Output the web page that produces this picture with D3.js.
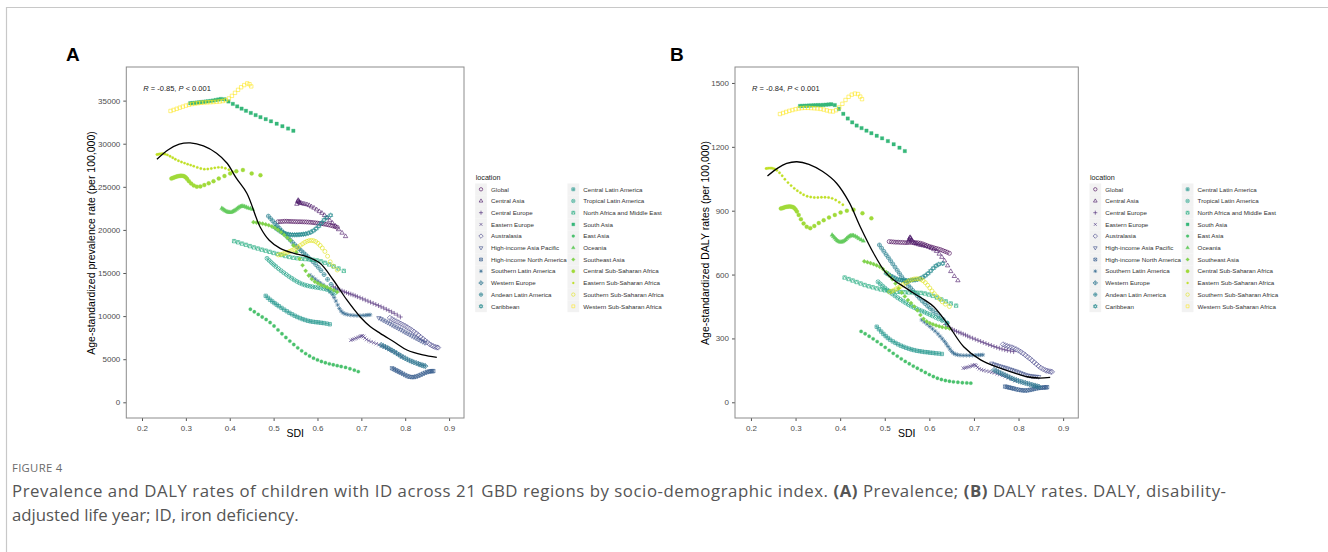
<!DOCTYPE html>
<html>
<head>
<meta charset="utf-8">
<script src="https://cdn.jsdelivr.net/npm/d3@7"></script>
<style>
  body { margin: 0; background: #fff; }
  svg text { font-family: "Liberation Sans", Arial, sans-serif; }
  .caption { font-family: "Open Sans", "Noto Sans", sans-serif; }
</style>
</head>
<body>
<svg id="fig" width="1328" height="552"></svg>
<script>
// ---- data ----
var locations = ["Global", "Central Asia", "Central Europe", "Eastern Europe", "Australasia",
  "High-income Asia Pacific", "High-income North America", "Southern Latin America", "Western Europe",
  "Andean Latin America", "Caribbean", "Central Latin America", "Tropical Latin America",
  "North Africa and Middle East", "South Asia", "East Asia", "Oceania", "Southeast Asia",
  "Central Sub-Saharan Africa", "Eastern Sub-Saharan Africa", "Southern Sub-Saharan Africa",
  "Western Sub-Saharan Africa"];

// ggplot shape codes, one per location
var shapeCodes = [1, 2, 3, 4, 5, 6, 7, 8, 9, 10, 11, 12, 13, 14, 15, 16, 17, 18, 19, 20, 21, 22];

var sdiValues = [
  [0.510,0.515,0.520,0.525,0.530,0.535,0.540,0.545,0.550,0.555,0.560,0.565,0.570,0.575,0.580,0.585,0.590,0.595,0.600,0.605,0.610,0.615,0.620,0.625,0.630,0.635,0.640,0.645],
  [0.553,0.555,0.556,0.557,0.558,0.560,0.563,0.567,0.571,0.576,0.581,0.586,0.592,0.598,0.604,0.610,0.616,0.622,0.628,0.634,0.641,0.648,0.656,0.664],
  [0.636,0.641,0.646,0.651,0.656,0.661,0.666,0.671,0.676,0.681,0.686,0.691,0.697,0.703,0.709,0.715,0.721,0.727,0.733,0.739,0.745,0.751,0.757,0.763,0.769,0.775,0.782,0.789],
  [0.676,0.680,0.684,0.688,0.692,0.696,0.699,0.702,0.705,0.708,0.712,0.717,0.722,0.728,0.734,0.740,0.746,0.752,0.758,0.764,0.770,0.777,0.784,0.792],
  [0.765,0.770,0.775,0.780,0.785,0.790,0.795,0.800,0.805,0.810,0.815,0.820,0.825,0.830,0.835,0.840,0.845,0.850,0.855,0.860,0.864,0.868,0.872,0.875],
  [0.740,0.745,0.750,0.755,0.760,0.765,0.770,0.775,0.780,0.785,0.790,0.795,0.800,0.805,0.810,0.815,0.820,0.825,0.830,0.835,0.840,0.845],
  [0.770,0.774,0.778,0.782,0.786,0.790,0.795,0.800,0.805,0.810,0.815,0.820,0.825,0.830,0.835,0.840,0.845,0.850,0.854,0.858,0.861,0.864],
  [0.583,0.589,0.595,0.601,0.607,0.613,0.619,0.624,0.629,0.634,0.638,0.642,0.646,0.650,0.654,0.658,0.663,0.669,0.676,0.683,0.690,0.697,0.704,0.710,0.715,0.720],
  [0.745,0.750,0.755,0.760,0.765,0.770,0.775,0.780,0.785,0.790,0.795,0.800,0.805,0.810,0.815,0.820,0.825,0.830,0.834,0.838,0.842,0.846],
  [0.488,0.493,0.498,0.503,0.508,0.513,0.518,0.523,0.528,0.533,0.538,0.543,0.548,0.553,0.558,0.563,0.568,0.573,0.578,0.584,0.590,0.596,0.602,0.608,0.615,0.623,0.631,0.640],
  [0.503,0.508,0.513,0.518,0.523,0.528,0.533,0.538,0.543,0.548,0.553,0.558,0.563,0.568,0.573,0.579,0.585,0.591,0.597,0.603,0.609,0.615,0.621,0.630],
  [0.482,0.487,0.492,0.497,0.502,0.507,0.512,0.518,0.524,0.530,0.536,0.542,0.548,0.554,0.560,0.566,0.572,0.578,0.584,0.590,0.596,0.602,0.608,0.614,0.621,0.628],
  [0.485,0.490,0.495,0.500,0.505,0.511,0.517,0.523,0.529,0.535,0.541,0.547,0.553,0.559,0.565,0.571,0.577,0.583,0.589,0.595,0.601,0.607,0.614,0.621,0.629,0.639],
  [0.410,0.419,0.428,0.437,0.446,0.455,0.464,0.473,0.482,0.491,0.500,0.509,0.518,0.527,0.536,0.545,0.554,0.563,0.572,0.581,0.590,0.599,0.608,0.617,0.627,0.637,0.648,0.660],
  [0.310,0.315,0.320,0.325,0.330,0.335,0.340,0.345,0.350,0.356,0.362,0.368,0.374,0.380,0.388,0.397,0.407,0.417,0.427,0.437,0.448,0.459,0.470,0.482,0.494,0.507,0.520,0.533,0.545],
  [0.447,0.456,0.465,0.474,0.483,0.492,0.501,0.510,0.519,0.528,0.537,0.546,0.555,0.564,0.573,0.582,0.591,0.600,0.609,0.618,0.627,0.636,0.645,0.654,0.664,0.674,0.684,0.693],
  [0.382,0.385,0.388,0.391,0.394,0.397,0.400,0.403,0.406,0.409,0.412,0.415,0.418,0.421,0.424,0.427,0.430,0.434,0.438,0.442,0.447,0.452],
  [0.454,0.461,0.468,0.475,0.482,0.489,0.496,0.503,0.510,0.517,0.524,0.531,0.538,0.545,0.552,0.559,0.566,0.573,0.580,0.587,0.594,0.601,0.608,0.615,0.622,0.629,0.637,0.645],
  [0.267,0.270,0.273,0.276,0.279,0.282,0.285,0.288,0.291,0.294,0.297,0.300,0.303,0.307,0.312,0.318,0.325,0.333,0.342,0.352,0.363,0.375,0.388,0.401,0.415,0.430,0.450,0.470],
  [0.234,0.237,0.240,0.243,0.246,0.249,0.253,0.258,0.264,0.270,0.276,0.283,0.290,0.297,0.304,0.311,0.318,0.326,0.334,0.342,0.350,0.358,0.366,0.374,0.382,0.390,0.398,0.406],
  [0.511,0.516,0.521,0.526,0.531,0.536,0.541,0.546,0.551,0.556,0.561,0.566,0.571,0.576,0.581,0.586,0.591,0.596,0.601,0.606,0.611,0.617,0.623,0.629,0.636,0.645],
  [0.265,0.272,0.279,0.286,0.293,0.300,0.307,0.314,0.321,0.328,0.335,0.342,0.349,0.356,0.363,0.370,0.377,0.384,0.391,0.398,0.405,0.412,0.419,0.426,0.433,0.440,0.445,0.449]
];

var prevalenceValues = [
  [20950,20960,20980,21000,21000,20990,20980,20970,20960,20950,20950,20940,20930,20920,20900,20880,20850,20820,20790,20750,20720,20680,20640,20590,20530,20460,20380,20300],
  [23000,23300,23450,23350,23200,23150,23100,23050,23000,22950,22850,22700,22550,22350,22150,21950,21700,21400,21100,20800,20450,20050,19650,19250],
  [13400,13260,13130,13020,12920,12820,12730,12640,12550,12460,12360,12250,12130,12000,11870,11740,11610,11480,11350,11220,11080,10940,10790,10640,10480,10320,10120,9900],
  [7200,7280,7360,7440,7520,7600,7680,7720,7650,7450,7280,7150,7030,6920,6800,6680,6560,6420,6280,6130,5970,5780,5550,5280],
  [9800,9650,9500,9380,9250,9120,8980,8850,8700,8540,8370,8190,8000,7800,7590,7380,7170,6960,6770,6610,6500,6420,6370,6350],
  [9800,9680,9530,9400,9250,9120,8970,8830,8700,8550,8420,8270,8130,7990,7850,7700,7570,7430,7290,7150,7020,6900],
  [3950,3850,3740,3640,3540,3430,3300,3160,3040,2960,2920,2930,2990,3080,3190,3310,3420,3510,3570,3600,3615,3620],
  [14750,14520,14280,14040,13820,13620,13380,13120,12820,12500,12150,11750,11300,10880,10580,10380,10250,10170,10110,10080,10060,10060,10080,10100,10130,10150],
  [6650,6540,6420,6290,6150,6010,5860,5700,5540,5390,5240,5100,4970,4850,4740,4640,4550,4460,4380,4310,4250,4200],
  [21600,21320,21040,20760,20480,20200,19920,19640,19360,19090,18820,18560,18300,18050,17810,17580,17350,17120,16880,16600,16300,15980,15650,15280,14820,14260,13680,13050],
  [20300,20100,19920,19760,19640,19550,19490,19450,19430,19430,19440,19450,19470,19500,19540,19620,19740,19920,20150,20450,20800,21150,21450,21700],
  [12350,12120,11900,11700,11510,11330,11150,10950,10750,10560,10380,10210,10050,9900,9770,9650,9550,9460,9390,9340,9300,9270,9230,9190,9130,9050],
  [16700,16450,16210,15980,15760,15510,15270,15040,14820,14600,14400,14200,14020,13860,13720,13610,13530,13460,13400,13350,13300,13250,13180,13080,12900,12650],
  [18700,18560,18410,18270,18120,17970,17840,17710,17590,17460,17330,17210,17090,16970,16860,16770,16710,16660,16620,16580,16530,16460,16350,16190,15990,15760,15520,15250],
  [34700,34720,34740,34770,34800,34830,34860,34890,34920,34960,35010,35070,35130,35190,35150,34900,34620,34330,34070,33820,33570,33320,33080,32850,32600,32320,32030,31760,31500],
  [10800,10500,10200,9900,9600,9250,8850,8400,7950,7520,7100,6700,6320,5970,5650,5370,5120,4920,4740,4590,4460,4350,4250,4150,4050,3900,3730,3560],
  [22500,22400,22290,22190,22110,22060,22040,22050,22100,22180,22280,22400,22520,22630,22710,22750,22760,22720,22630,22540,22470,22400],
  [20900,20850,20790,20720,20640,20540,20400,20220,20000,19730,19420,19100,18800,18200,17400,16650,15900,15250,14700,14300,14000,13800,13620,13480,13350,13200,13020,12800],
  [25950,26020,26080,26140,26190,26230,26260,26280,26280,26260,26200,26080,25900,25650,25380,25150,25020,25050,25200,25400,25650,25950,26250,26550,26800,26950,26550,26350],
  [28750,28780,28800,28820,28840,28830,28790,28700,28550,28380,28200,28030,27880,27750,27630,27520,27400,27250,27120,27050,27060,27120,27200,27260,27250,27150,26980,26760],
  [17100,17150,17220,17300,17390,17490,17600,17720,17860,18020,18200,18380,18550,18680,18760,18780,18750,18650,18450,18200,17900,17500,16950,16300,15800,15350],
  [33800,33920,34050,34180,34300,34420,34520,34600,34660,34710,34750,34780,34800,34820,34840,34870,34900,34950,35050,35250,35550,35900,36250,36550,36800,37000,36900,36650]
];

var dalyValues = [
  [755,754,753,752,752,751,751,750,750,751,751,750,750,749,747,744,740,736,732,729,726,723,720,717,713,709,705,700],
  [755,765,772,775,770,762,755,748,744,741,738,736,733,729,724,718,710,697,682,665,642,615,592,572],
  [365,356,349,343,338,333,329,325,320,316,311,306,301,296,291,286,281,276,271,267,262,258,254,250,247,244,241,238],
  [160,162,164,166,169,172,174,176,172,164,157,153,150,147,144,141,138,134,130,126,121,115,108,101],
  [272,268,264,261,258,254,249,243,237,230,222,214,206,197,188,179,170,162,156,151,148,146,144,143],
  [183,179,176,172,169,166,163,160,156,153,149,146,142,138,134,130,127,125,123,122,121,120],
  [74,72,70,68,66,64,61,59,57,56,55,56,58,60,63,65,67,68,69,70,70,71],
  [387,377,367,356,345,334,322,310,298,286,274,262,250,239,231,226,223,221,220,220,220,221,221,222,222,223],
  [152,147,142,137,132,127,122,117,112,108,104,100,97,94,91,88,85,82,79,77,75,73],
  [739,724,709,694,680,665,650,635,620,605,590,576,562,549,537,525,513,501,489,476,464,452,441,430,418,404,389,372],
  [608,601,594,588,583,578,575,573,572,572,572,573,574,575,577,581,587,595,605,617,630,641,648,652],
  [355,343,332,321,311,302,294,286,279,272,266,261,256,252,248,245,242,240,238,236,235,233,232,230,229,227],
  [566,556,546,537,528,518,509,500,491,483,475,467,459,452,446,440,434,429,424,418,412,406,399,392,384,372],
  [586,579,572,565,558,551,545,540,535,530,526,523,521,519,518,517,516,516,515,514,511,506,500,492,483,474,464,454],
  [1392,1392,1393,1393,1394,1394,1395,1395,1396,1396,1397,1398,1399,1400,1396,1378,1355,1333,1315,1300,1288,1276,1264,1252,1240,1227,1212,1196,1180],
  [333,322,310,298,285,272,258,244,230,217,204,192,181,170,160,150,140,130,121,113,107,102,99,96,94,92,91,90],
  [786,779,772,765,759,755,753,753,755,759,764,770,776,780,783,784,783,780,775,769,763,758],
  [662,658,654,649,643,636,626,612,596,578,558,535,515,497,480,466,450,432,410,392,380,372,366,361,357,353,350,347],
  [910,912,914,916,918,919,920,920,919,917,913,906,896,880,860,840,824,818,828,842,855,868,880,891,900,905,888,864],
  [1098,1099,1100,1100,1100,1099,1096,1090,1078,1064,1048,1032,1018,1005,994,984,975,968,964,962,962,963,963,962,958,950,940,928],
  [518,522,527,533,539,546,553,560,566,572,576,579,580,580,577,571,562,550,537,523,510,497,485,472,461,450],
  [1354,1359,1364,1369,1373,1377,1380,1382,1383,1383,1382,1381,1380,1378,1375,1371,1367,1366,1372,1385,1402,1420,1435,1445,1450,1448,1436,1424]
];

// smoothed fit lines
var fitPrevalence = [[0.234,28190],[0.26,29300],[0.285,29950],[0.31,30100],[0.34,29750],[0.37,28900],
  [0.394,27730],[0.415,26000],[0.439,24250],[0.469,20370],[0.49,18800],[0.515,17860],[0.545,17300],
  [0.576,16900],[0.606,16130],[0.636,14190],[0.667,11870],[0.697,9930],[0.72,8800],[0.743,8000],
  [0.775,7000],[0.804,6070],[0.84,5500],[0.872,5220]];
var fitDaly = [[0.237,1063],[0.26,1100],[0.28,1122],[0.303,1130],[0.33,1118],[0.36,1085],[0.392,1029],
  [0.42,940],[0.445,825],[0.475,700],[0.50,615],[0.52,574],[0.545,540],[0.565,512],[0.59,480],
  [0.61,449],[0.64,371],[0.677,261],[0.715,199],[0.759,160],[0.79,138],[0.819,120],[0.845,114],[0.871,117]];

var sdiTicks = [0.2, 0.3, 0.4, 0.5, 0.6, 0.7, 0.8, 0.9];
var prevalenceTicks = [0, 5000, 10000, 15000, 20000, 25000, 30000, 35000];
var dalyTicks = [0, 300, 600, 900, 1200, 1500];

var svg = d3.select("#fig");

// frame lines
svg.append("line").attr("x1", 6.5).attr("x2", 6.5).attr("y1", 7).attr("y2", 552)
  .attr("stroke", "#c8c8c8").attr("stroke-width", 1.2);
svg.append("line").attr("x1", 6).attr("x2", 1328).attr("y1", 7.5).attr("y2", 7.5)
  .attr("stroke", "#c8c8c8").attr("stroke-width", 1.2);

var color = function(i) { return d3.interpolateViridis(i / 21); };

function markerPath(code, r) {
  var a = r * 0.85, d = r * 1.3, h = r * 1.25;
  var circ = function(rr) {
    return "M" + (-rr) + ",0A" + rr + "," + rr + " 0 1,0 " + rr + ",0A" + rr + "," + rr + " 0 1,0 " + (-rr) + ",0Z";
  };
  var sq = "M" + (-a) + "," + (-a) + "H" + a + "V" + a + "H" + (-a) + "Z";
  var plus = function(p) { return "M" + (-p) + ",0H" + p + "M0," + (-p) + "V" + p; };
  var cross = function(p) { return "M" + (-p) + "," + (-p) + "L" + p + "," + p + "M" + (-p) + "," + p + "L" + p + "," + (-p); };
  var triUp = "M0," + (-h) + "L" + (h * 0.87) + "," + (h * 0.5) + "L" + (-h * 0.87) + "," + (h * 0.5) + "Z";
  var triDn = "M0," + h + "L" + (h * 0.87) + "," + (-h * 0.5) + "L" + (-h * 0.87) + "," + (-h * 0.5) + "Z";
  var diam = function(p) { return "M0," + (-p) + "L" + p + ",0L0," + p + "L" + (-p) + ",0Z"; };
  switch (code) {
    case 1: return circ(r);
    case 2: return triUp;
    case 3: return plus(r * 1.2);
    case 4: return cross(r * 0.85);
    case 5: return diam(d);
    case 6: return triDn;
    case 7: return sq + cross(a);
    case 8: return plus(r * 1.1) + cross(r * 0.8);
    case 9: return diam(d) + plus(d);
    case 10: return circ(r) + plus(r);
    case 11: return triUp + triDn;
    case 12: return sq + plus(a);
    case 13: return circ(r) + cross(r * 0.7);
    case 14: return sq + "M" + (-a) + "," + a + "L0," + (-a) + "L" + a + "," + a;
    case 15: return sq;
    case 16: return circ(r * 0.85);
    case 17: return triUp;
    case 18: return diam(r * 1.05);
    case 19: return circ(r);
    case 20: return circ(r * 0.6);
    case 21: return circ(r);
    case 22: return sq;
  }
}
function isFilled(code) { return code >= 15 && code <= 20; }

function drawPanel(cfg) {
  var x = d3.scaleLinear().domain([0.1642, 0.934]).range([cfg.left, cfg.right]);
  var y = d3.scaleLinear().domain(cfg.yDomain).range([418, 67]);
  var g = svg.append("g");

  g.append("text").attr("x", cfg.labelX).attr("y", 61).attr("font-size", 19)
    .attr("font-weight", "bold").attr("fill", "#000").text(cfg.label);

  g.append("g").attr("transform", "translate(0,418)")
    .call(d3.axisBottom(x).tickValues(sdiTicks).tickSize(3).tickFormat(d3.format(".1f")))
    .call(function(s) { s.select(".domain").remove(); })
    .call(function(s) {
      s.selectAll("line").attr("stroke", "#555");
      s.selectAll("text").attr("fill", "#4d4d4d").attr("font-size", 8)
        .attr("font-family", "Liberation Sans, Arial, sans-serif").attr("dy", "0.9em");
    });
  g.append("g").attr("transform", "translate(" + cfg.left + ",0)")
    .call(d3.axisLeft(y).tickValues(cfg.yTicks).tickSize(3).tickFormat(d3.format("d")))
    .call(function(s) { s.select(".domain").remove(); })
    .call(function(s) {
      s.selectAll("line").attr("stroke", "#555");
      s.selectAll("text").attr("fill", "#4d4d4d").attr("font-size", 8)
        .attr("font-family", "Liberation Sans, Arial, sans-serif");
    });

  g.append("text").attr("x", (cfg.left + cfg.right) / 2).attr("y", 437).attr("text-anchor", "middle")
    .attr("font-size", 10.5).attr("fill", "#000").text("SDI");
  g.append("text").attr("transform", "translate(" + cfg.titleX + ",243) rotate(-90)")
    .attr("text-anchor", "middle").attr("font-size", 10.5).attr("fill", "#000").text(cfg.yTitle);

  // points, one group per location
  locations.forEach(function(loc, i) {
    var vals = cfg.values[i];
    var code = shapeCodes[i];
    g.append("g").selectAll("path").data(sdiValues[i]).join("path")
      .attr("transform", function(s, k) { return "translate(" + x(s) + "," + y(vals[k]) + ")"; })
      .attr("d", markerPath(code, 2))
      .attr("fill", isFilled(code) ? color(i) : "none")
      .attr("stroke", color(i))
      .attr("stroke-width", isFilled(code) ? 0.3 : 0.6);
  });

  // fit line
  g.append("path").datum(cfg.fit)
    .attr("d", d3.line().x(function(d) { return x(d[0]); }).y(function(d) { return y(d[1]); })
      .curve(d3.curveCatmullRom.alpha(0.5)))
    .attr("fill", "none").attr("stroke", "#000").attr("stroke-width", 1.3);

  // panel border
  g.append("rect").attr("x", cfg.left).attr("y", 67).attr("width", cfg.right - cfg.left).attr("height", 351)
    .attr("fill", "none").attr("stroke", "#8c8c8c").attr("stroke-width", 1);

  // correlation label
  var t = g.append("text").attr("x", cfg.left + 17).attr("y", 90.5).attr("font-size", 7.5).attr("fill", "#222");
  t.append("tspan").attr("font-style", "italic").text("R");
  t.append("tspan").text(" = " + cfg.r + ", ");
  t.append("tspan").attr("font-style", "italic").text("P");
  t.append("tspan").text(" < 0.001");

  // legend
  var lx = cfg.right + 11.7;
  g.append("text").attr("x", lx).attr("y", 179.5).attr("font-size", 7.2).attr("fill", "#222").text("location");
  locations.forEach(function(loc, i) {
    var col = i < 11 ? 0 : 1, row = i % 11;
    var kx = lx + 5.3 + col * 92.3, ky = 189.3 + row * 11.7;
    g.append("rect").attr("x", kx - 5.85).attr("y", ky - 5.85).attr("width", 11.7).attr("height", 11.7)
      .attr("fill", "#f2f2f2");
    var code = shapeCodes[i];
    g.append("path").attr("transform", "translate(" + kx + "," + ky + ")")
      .attr("d", markerPath(code, 1.7))
      .attr("fill", isFilled(code) ? color(i) : "none")
      .attr("stroke", color(i)).attr("stroke-width", isFilled(code) ? 0.3 : 0.6);
    g.append("text").attr("x", kx + 10).attr("y", ky + 2.2).attr("font-size", 6.2).attr("fill", "#333").text(loc);
  });
}

drawPanel({ label: "A", labelX: 66, left: 126.3, right: 464, yDomain: [-1821, 38900],
  yTicks: prevalenceTicks, values: prevalenceValues, fit: fitPrevalence, r: "-0.85",
  titleX: 94.5, yTitle: "Age-standardized prevalence rate (per 100,000)" });
drawPanel({ label: "B", labelX: 670, left: 735, right: 1078.3, yDomain: [-73.8, 1575],
  yTicks: dalyTicks, values: dalyValues, fit: fitDaly, r: "-0.84",
  titleX: 709, yTitle: "Age-standardized DALY rates (per 100,000)" });

// caption (first line justified to the text column)
svg.append("text").attr("class", "caption").attr("x", 12).attr("y", 472).attr("font-size", 11.3)
  .attr("fill", "#6b6b6b").attr("letter-spacing", 0.3).text("FIGURE 4");
var c1 = svg.append("text").attr("class", "caption").attr("x", 12).attr("y", 497)
  .attr("font-size", 16.8).attr("fill", "#555")
  .attr("textLength", 1214).attr("lengthAdjust", "spacing");
c1.append("tspan").text("Prevalence and DALY rates of children with ID across 21 GBD regions by socio-demographic index. ");
c1.append("tspan").attr("font-weight", "bold").text("(A)");
c1.append("tspan").text(" Prevalence; ");
c1.append("tspan").attr("font-weight", "bold").text("(B)");
c1.append("tspan").text(" DALY rates. DALY, disability-");
svg.append("text").attr("class", "caption").attr("x", 12).attr("y", 521).attr("font-size", 16.8)
  .attr("fill", "#555").text("adjusted life year; ID, iron deficiency.");
</script>
</body>
</html>
